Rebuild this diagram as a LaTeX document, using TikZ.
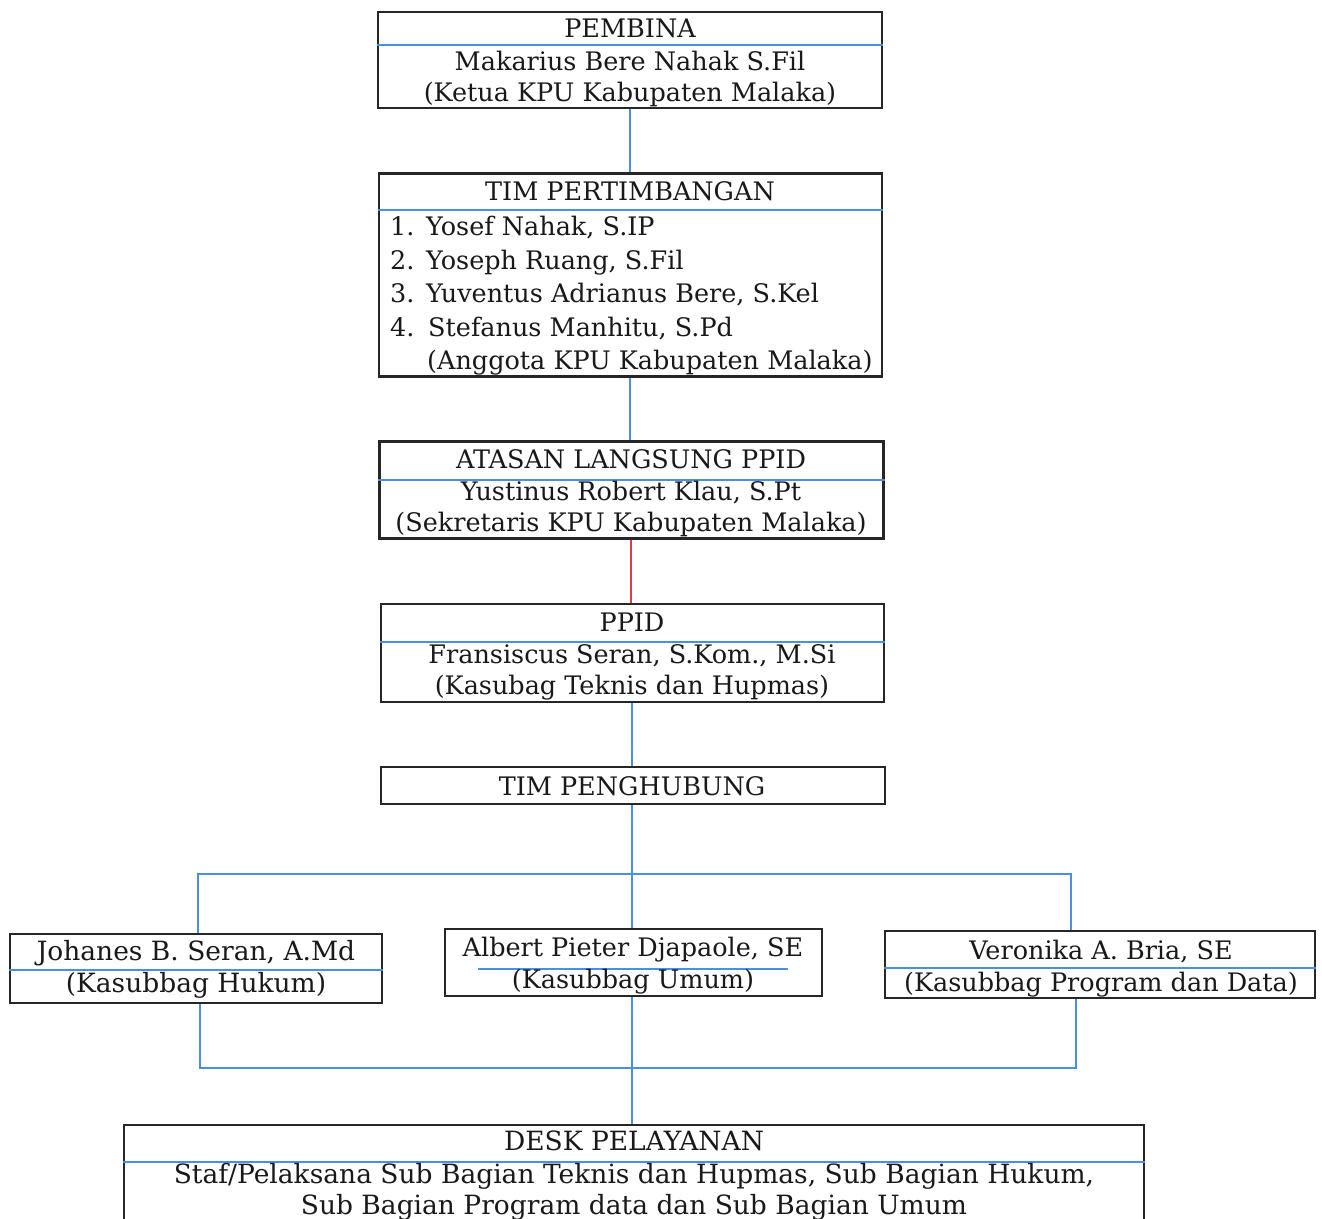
\documentclass[tikz,border=0pt]{standalone}
\usepackage{fontspec}
\setmainfont{DejaVu Serif}
\definecolor{lnblue}{RGB}{74,144,226}
\definecolor{lnred}{RGB}{220,60,75}
\definecolor{txtc}{RGB}{25,25,25}
\tikzset{
  box/.style={draw=black!85, line width=2.4pt, inner sep=0pt},
  bl/.style={draw=lnblue, line width=2.4pt},
  rd/.style={draw=lnred, line width=2.4pt},
  txt/.style={inner sep=0pt, anchor=base, text=txtc, font=\fontsize{25.5}{30}\selectfont},
  txtw/.style={txt, font=\fontsize{26.5}{30}\selectfont},
  ltxt/.style={txt, anchor=base west},
}
\begin{document}
\begin{tikzpicture}[x=1pt,y=-1pt]
\useasboundingbox (0,0) rectangle (1322,1218);
\clip (0,0) rectangle (1322,1218);
\fill[white] (0,0) rectangle (1322,1218);

% PEMBINA
\node[box, minimum width=504pt, minimum height=96pt] (pembina) at (630,60) {};
\draw[bl] (pembina.west |- 0,45) -- (pembina.east |- 0,45);
\node[txt] (pembinaA) at (630,37) {PEMBINA};
\node[txt] (pembinaB) at (630,70) {Makarius Bere Nahak S.Fil};
\node[txt] (pembinaC) at (630,101) {(Ketua KPU Kabupaten Malaka)};

% TIM PERTIMBANGAN
\node[box, minimum width=503pt, minimum height=203pt] (timp) at (630.5,275) {};
\draw[bl] (timp.west |- 0,210) -- (timp.east |- 0,210);
\node[txt] (timpA) at (630,200) {TIM PERTIMBANGAN};
\node[ltxt] (n1) at (390,235) {1.};
\node[ltxt] (n2) at (390,269) {2.};
\node[ltxt] (n3) at (390,302) {3.};
\node[ltxt] (n4) at (390,336) {4.};
\node[ltxt] (p1) at (426,235) {Yosef Nahak, S.IP};
\node[ltxt] (p2) at (426,269) {Yoseph Ruang, S.Fil};
\node[ltxt] (p3) at (426,302) {Yuventus Adrianus Bere, S.Kel};
\node[ltxt] (p4) at (428,336) {Stefanus Manhitu, S.Pd};
\node[ltxt] (p5) at (427,369) {(Anggota KPU Kabupaten Malaka)};

% ATASAN LANGSUNG PPID
\node[box, minimum width=504pt, minimum height=97pt] (atasan) at (631.5,490) {};
\draw[bl] (atasan.west |- 0,480) -- (atasan.east |- 0,480);
\node[txt] (atasanA) at (631,468) {ATASAN LANGSUNG PPID};
\node[txt] (atasanB) at (631,500) {Yustinus Robert Klau, S.Pt};
\node[txt] (atasanC) at (631,531) {(Sekretaris KPU Kabupaten Malaka)};

% PPID
\node[box, minimum width=503pt, minimum height=98pt] (ppid) at (632.5,653) {};
\draw[bl] (ppid.west |- 0,642) -- (ppid.east |- 0,642);
\node[txt] (ppidA) at (632,631) {PPID};
\node[txt] (ppidB) at (632,663) {Fransiscus Seran, S.Kom., M.Si};
\node[txt] (ppidC) at (632,694) {(Kasubag Teknis dan Hupmas)};

% TIM PENGHUBUNG
\node[box, minimum width=504pt, minimum height=37pt] (peng) at (633,785.5) {};
\node[txt] (pengA) at (632,795) {TIM PENGHUBUNG};

% three boxes
\node[box, minimum width=372pt, minimum height=69pt] (joh) at (196,968.5) {};
\draw[bl] (joh.west |- 0,970) -- (joh.east |- 0,970);
\node[txtw] (johA) at (196,960) {Johanes B. Seran, A.Md};
\node[txtw] (johB) at (196,992) {(Kasubbag Hukum)};

\node[box, minimum width=377pt, minimum height=67pt] (alb) at (633.5,962.5) {};
\coordinate (albL) at (478,969);
\coordinate (albR) at (788,969);
\draw[bl] (albL) -- (albR);
\node[txt] (albA) at (633,956) {Albert Pieter Djapaole, SE};
\node[txt] (albB) at (633,988) {(Kasubbag Umum)};

\node[box, minimum width=430pt, minimum height=67pt] (ver) at (1100,964.5) {};
\draw[bl] (ver.west |- 0,968) -- (ver.east |- 0,968);
\node[txt] (verA) at (1101,959) {Veronika A. Bria, SE};
\node[txt] (verB) at (1101,991) {(Kasubbag Program dan Data)};

% DESK PELAYANAN
\node[box, minimum width=1020pt, minimum height=130pt] (desk) at (634,1190) {};
\draw[bl] (desk.west |- 0,1162) -- (desk.east |- 0,1162);
\node[txtw] (deskA) at (634,1150) {DESK PELAYANAN};
\node[txtw] (deskB) at (634,1183) {Staf/Pelaksana Sub Bagian Teknis dan Hupmas, Sub Bagian Hukum,};
\node[txtw] (deskC) at (634,1214) {Sub Bagian Program data dan Sub Bagian Umum};

% connectors
\draw[bl] (pembina.south -| 630,0) -- (timp.north -| 630,0);
\draw[bl] (timp.south -| 630,0) -- (atasan.north -| 630,0);
\draw[rd] (atasan.south -| 631,0) -- (ppid.north -| 631,0);
\draw[bl] (ppid.south -| 632,0) -- (peng.north -| 632,0);
\draw[bl] (peng.south -| 632,0) -- (alb.north -| 632,0);

\coordinate (tL) at (198,874);
\coordinate (tR) at (1071,874);
\draw[bl] (tL |- joh.north) -- (tL) -- (tR) -- (tR |- ver.north);

\coordinate (bL) at (200,1068);
\coordinate (bR) at (1076,1068);
\draw[bl] (bL |- joh.south) -- (bL) -- (bR) -- (bR |- ver.south);
\draw[bl] (alb.south -| 632,0) -- (desk.north -| 632,0);
\end{tikzpicture}
\end{document}
